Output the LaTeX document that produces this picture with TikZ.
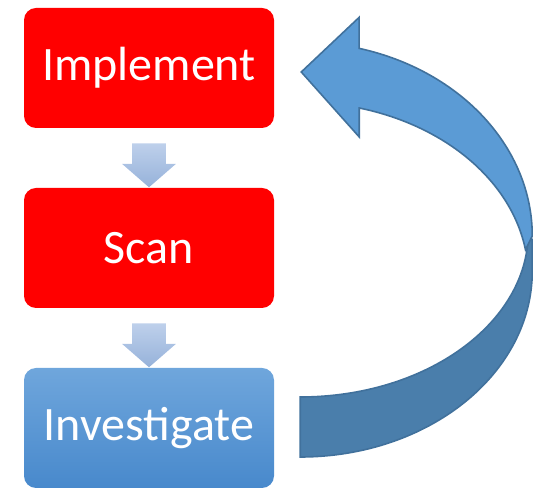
\documentclass[tikz,border=0pt]{standalone}
\usepackage{fontspec}
\setmainfont{Carlito}
\usetikzlibrary{positioning}
\usetikzlibrary{calc}
\usetikzlibrary{shapes.arrows}
\definecolor{boxred}{RGB}{255,0,0}
\definecolor{invtopc}{RGB}{111,166,220}
\definecolor{invbotc}{RGB}{72,137,204}
\definecolor{steptopc}{RGB}{190,208,235}
\definecolor{stepbotc}{RGB}{150,178,218}
\definecolor{bandfrontc}{RGB}{91,155,213}
\definecolor{bandbackc}{RGB}{74,126,171}
\definecolor{bandlinec}{RGB}{65,113,156}

\begin{document}
\begin{tikzpicture}[x=0.75pt,y=0.75pt,
  phasebox/.style={shape=rectangle,rounded corners=9pt,minimum width=187.5pt,minimum height=90pt,
    inner sep=0pt,text=white,font=\fontsize{36}{40}\selectfont},
  downstep/.style={single arrow,rotate=-90,inner xsep=0pt,inner ysep=12.4pt,minimum height=33pt,
    single arrow head extend=7.5pt,single arrow tip angle=98,top color=steptopc,bottom color=stepbotc},
  band/.style={draw=bandlinec,line width=1.2pt,line join=miter}]
\useasboundingbox (0,0) rectangle (533,489);

\node[phasebox,fill=boxred] (impl) at (149,421) {Implement};
\node[phasebox,fill=boxred] (scan) at (149,241) {Scan};
\node[phasebox,top color=invtopc,bottom color=invbotc] (inv) at (149,61) {Investigate};

\node[downstep] (step1) at ($(impl.south)!0.5!(scan.north)$) {};
\node[downstep] (step2) at ($(scan.south)!0.5!(inv.north)$) {};

% back part of the loop arrow
\filldraw[band,fill=bandbackc] (inv.east) ++(26,-29) arc[start angle=-90,end angle=0,x radius=232,y radius=186]
  -- ++(0,31) coordinate (bend) -- ++(-4,8) arc[start angle=0,end angle=-90,x radius=228,y radius=165] -- cycle;
% front part with the head
\filldraw[band,fill=bandfrontc] ([yshift=3pt]bend) arc[start angle=0,end angle=75.3,x radius=232,y radius=194]
  -- ++(0,31) -- ($(impl.east)+(27,-4)$) coordinate (tip) -- ++(58,-65) -- ++(0,29)
  arc[start angle=75,end angle=9,x radius=228,y radius=175] -- cycle;

\end{tikzpicture}
\end{document}
